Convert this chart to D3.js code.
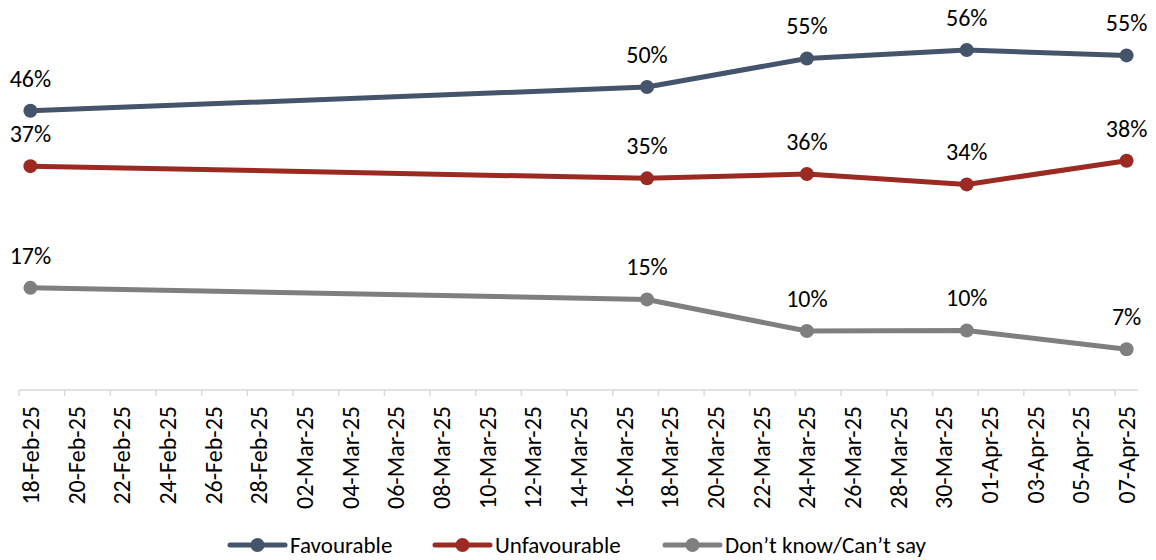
<!DOCTYPE html>
<html>
<head>
<meta charset="utf-8">
<script src="https://cdn.jsdelivr.net/npm/d3@7"></script>
<style>
  html, body { margin: 0; padding: 0; background: #fff; }
  svg { display: block; }
  text { font-family: Carlito, Lato, "Liberation Sans", sans-serif; }
</style>
</head>
<body>
<svg id="chart" width="1156" height="560"></svg>
<script>
// ---- data ----
const surveyDates = ["2025-02-18", "2025-03-17", "2025-03-24", "2025-03-31", "2025-04-07"];
const seriesNames = ["Favourable", "Unfavourable", "Don\u2019t know/Can\u2019t say"];
const favourable   = [46.0, 49.9, 54.6, 56.0, 55.1];
const unfavourable = [36.9, 34.9, 35.6, 33.9, 37.8];
const dontKnow     = [16.9, 15.0, 9.8, 9.9, 6.8];
const seriesColors = ["#44546A", "#9B2A23", "#7F7F7F"];
const axisStart = "2025-02-18";
const axisEnd = "2025-04-07";
const tickStepDays = 2;

// ---- setup ----
const svg = d3.select("#chart");
const parse = d3.utcParse("%Y-%m-%d");
const halfDay = 12 * 3600 * 1000;
const d0 = parse(axisStart), d1 = parse(axisEnd);

const x = d3.scaleUtc()
  .domain([new Date(+d0 - halfDay), new Date(+d1 + halfDay)])
  .range([19, 1138]);
const y = d3.scaleLinear().domain([0, 60]).range([390.7, 25.6]);

const seriesValues = [favourable, unfavourable, dontKnow];
const series = seriesNames.map((name, i) => ({
  name, color: seriesColors[i],
  points: surveyDates.map((d, j) => ({ date: parse(d), value: seriesValues[i][j] }))
}));

// ---- x axis ----
const nDays = d3.utcDay.count(d0, d1);
const tickDates = d3.range(0, nDays + 1, tickStepDays).map(i => d3.utcDay.offset(d0, i));
const axisY = 390;
svg.append("line")
  .attr("x1", x.range()[0]).attr("x2", x.range()[1])
  .attr("y1", axisY).attr("y2", axisY)
  .attr("stroke", "#D9D9D9").attr("stroke-width", 1.5);
svg.append("g").selectAll("line").data(tickDates).join("line")
  .attr("x1", d => x(new Date(+d - halfDay))).attr("x2", d => x(new Date(+d - halfDay)))
  .attr("y1", axisY).attr("y2", axisY + 6)
  .attr("stroke", "#D9D9D9").attr("stroke-width", 1.5);

const fmt = d3.utcFormat("%d-%b-%y");
const axisG = svg.append("g").attr("transform", `translate(0,${axisY})`)
  .call(d3.axisBottom(x).tickValues(tickDates).tickFormat(fmt).tickSize(0));
axisG.select(".domain").remove();
axisG.selectAll(".tick text")
  .attr("transform", "rotate(-90)")
  .attr("text-anchor", "end")
  .attr("x", -16).attr("y", 0).attr("dy", "0.33em")
  .attr("fill", "#000")
  .style("font-size", "24px");

// ---- lines ----
const line = d3.line().x(d => x(d.date)).y(d => y(d.value));
const pct = v => Math.round(v) + "%";

series.forEach(s => {
  const g = svg.append("g");
  g.append("path").datum(s.points)
    .attr("d", line).attr("fill", "none")
    .attr("stroke", s.color).attr("stroke-width", 5)
    .attr("stroke-linejoin", "round");
  g.selectAll("circle").data(s.points).join("circle")
    .attr("cx", d => x(d.date)).attr("cy", d => y(d.value))
    .attr("r", 7).attr("fill", s.color);
  g.selectAll("text").data(s.points).join("text")
    .attr("x", d => x(d.date)).attr("y", d => y(d.value) - 24)
    .attr("text-anchor", "middle")
    .attr("fill", "#000")
    .style("font-size", "24px")
    .text(d => pct(d.value));
});

// ---- legend ----
const legendX = [230, 435, 665];
const legendY = 545;
series.forEach((s, i) => {
  const g = svg.append("g").attr("transform", `translate(${legendX[i]},${legendY})`);
  g.append("line").attr("x1", 0).attr("x2", 55).attr("y1", 0).attr("y2", 0)
    .attr("stroke", s.color).attr("stroke-width", 5).attr("stroke-linecap", "round");
  g.append("circle").attr("cx", 27.5).attr("cy", 0).attr("r", 7).attr("fill", s.color);
  g.append("text").attr("x", 60).attr("y", 0).attr("dy", "0.33em")
    .attr("fill", "#000").style("font-size", "23px").text(s.name);
});
</script>
</body>
</html>
